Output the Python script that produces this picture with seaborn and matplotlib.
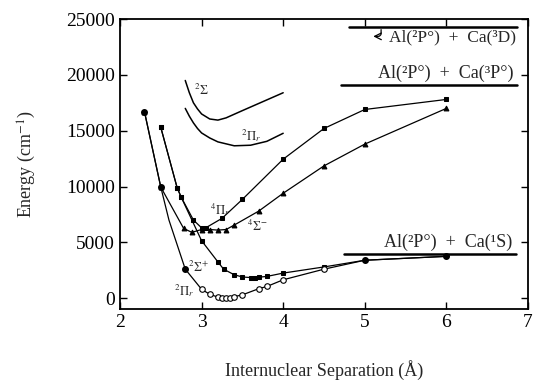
import matplotlib
matplotlib.use('Agg')
import matplotlib.pyplot as plt
import seaborn as sns
import pandas as pd

# Potential curves (x in Angstrom, energy in cm-1)
x_2pi = [2.3, 2.5, 2.6, 2.8, 3.0, 3.1, 3.2, 3.25, 3.3, 3.35, 3.4, 3.5, 3.7, 3.8, 4.0, 4.5, 5.0, 6.0]
e_2pi = [16700, 9950, 7000, 2600, 800, 350, 100, 50, 30, 60, 140, 300, 850, 1050, 1650, 2600, 3400, 3750]
mark_2pi = ['f', 'f', '', 'f', 'o', 'o', 'o', 'o', 'o', 'o', 'o', 'o', 'o', 'o', 'o', 'o', 'f', 'f']

x_2sp = [2.5, 2.7, 2.75, 3.0, 3.2, 3.27, 3.4, 3.5, 3.6, 3.65, 3.7, 3.8, 4.0, 4.5, 5.0, 6.0]
e_2sp = [15300, 9900, 9050, 5150, 3250, 2600, 2100, 1900, 1850, 1850, 1880, 1950, 2250, 2800, 3400, 3750]

x_4pi = [2.5, 2.7, 2.75, 2.9, 3.0, 3.05, 3.25, 3.5, 4.0, 4.5, 5.0, 6.0]
e_4pi = [15300, 9900, 9050, 7000, 6300, 6300, 7150, 8850, 12450, 15200, 16900, 17800]

x_4sm = [2.3, 2.5, 2.78, 2.88, 3.0, 3.1, 3.2, 3.3, 3.4, 3.7, 4.0, 4.5, 5.0, 6.0]
e_4sm = [16700, 9950, 6250, 5900, 6150, 6150, 6100, 6150, 6550, 7800, 9400, 11850, 13800, 17000]

# upper states (no markers)
x_2s_up = [2.8, 2.85, 2.9, 2.95, 3.0, 3.1, 3.2, 3.3, 3.5, 3.75, 4.0]
e_2s_up = [19500, 18400, 17500, 16950, 16500, 16050, 15950, 16150, 16800, 17600, 18400]
x_2p_up = [2.8, 2.85, 2.9, 2.95, 3.0, 3.1, 3.2, 3.4, 3.6, 3.8, 4.0]
e_2p_up = [17000, 16300, 15700, 15200, 14800, 14350, 14000, 13650, 13700, 14050, 14770]

# dissociation limits
limit_labels = ['Al(²P°)  +  Ca(¹S)', 'Al(²P°)  +  Ca(³P°)', 'Al(²P°)  +  Ca(³D)']
limit_energy = [4000, 19100, 24300]
limit_x0 = [4.75, 4.71, 4.81]
limit_x1 = [6.85, 6.86, 6.87]

state_labels = [r'$^{2}\Sigma$', r'$^{2}\Pi_{r}$', r'$^{4}\Pi_{r}$', r'$^{4}\Sigma^{-}$', r'$^{2}\Sigma^{+}$', r'$^{2}\Pi_{r}$']
state_x = [3.0, 3.6, 3.22, 3.68, 2.96, 2.79]
state_e = [18600, 14600, 7900, 6450, 2750, 700]

sns.set_theme(style='ticks')
plt.rcParams['font.family'] = ['Liberation Serif', 'DejaVu Serif']
plt.rcParams['mathtext.fontset'] = 'stix'

fig = plt.figure(figsize=(5.34, 3.81), dpi=100)
ax = fig.add_axes([0.2247, 0.188, 0.764, 0.762])

lw = 0.9
sns.lineplot(x=x_2pi, y=e_2pi, sort=False, color='black', lw=lw, ax=ax)
df = pd.DataFrame({'x': x_2pi, 'e': e_2pi, 'm': mark_2pi})
filled = df[df.m == 'f']
hollow = df[df.m == 'o']
ax.scatter(filled.x, filled.e, s=16, c='black', zorder=3)
ax.scatter(hollow.x, hollow.e, s=16, facecolors='white', edgecolors='black', lw=0.8, zorder=3)

sns.lineplot(x=x_2sp, y=e_2sp, sort=False, color='black', lw=lw, ax=ax,
             marker='s', markersize=3.5, markeredgecolor='black')
sns.lineplot(x=x_4pi, y=e_4pi, sort=False, color='black', lw=lw, ax=ax,
             marker='s', markersize=3.5, markeredgecolor='black')
sns.lineplot(x=x_4sm, y=e_4sm, sort=False, color='black', lw=lw, ax=ax,
             marker='^', markersize=3.5, markeredgecolor='black')
sns.lineplot(x=x_2s_up, y=e_2s_up, sort=False, color='black', lw=1.1, ax=ax)
sns.lineplot(x=x_2p_up, y=e_2p_up, sort=False, color='black', lw=1.1, ax=ax)

for lab, e, x0, x1 in zip(limit_labels, limit_energy, limit_x0, limit_x1):
    ax.plot([x0, x1], [e, e], color='black', lw=1.8)
    if 'D' in lab:
        ax.text(x1 - 0.02, e - 250, lab, ha='right', va='top', fontsize=12.5)
    else:
        ax.text(x1 - 0.04, e + 250, lab, ha='right', va='bottom', fontsize=13)
ax.annotate('', xy=(5.07, 23450), xytext=(5.2, limit_energy[2]),
            arrowprops=dict(arrowstyle='->', color='black', lw=0.9,
                            connectionstyle='angle,angleA=90,angleB=0,rad=3'))

for lab, x, e in zip(state_labels, state_x, state_e):
    ax.text(x, e, lab, ha='center', va='center', fontsize=9)

ax.set_xlim(2, 7)
ax.set_ylim(-1000, 25000)
ax.set_xticks([2, 3, 4, 5, 6, 7])
ax.set_yticks([0, 5000, 10000, 15000, 20000, 25000])
ax.tick_params(direction='in', length=5, width=1, top=True, right=True, labelsize=14, colors='black')
for s in ax.spines.values():
    s.set_linewidth(1.3)
    s.set_color('black')

ax.set_xlabel('Internuclear Separation (Å)', fontsize=13)
ax.set_ylabel(r'Energy (cm$^{-1}$)', fontsize=13)
ax.xaxis.set_label_coords(0.5, -0.175)
ax.yaxis.set_label_coords(-0.2, 0.5)

fig.savefig('out.png', dpi=100)
